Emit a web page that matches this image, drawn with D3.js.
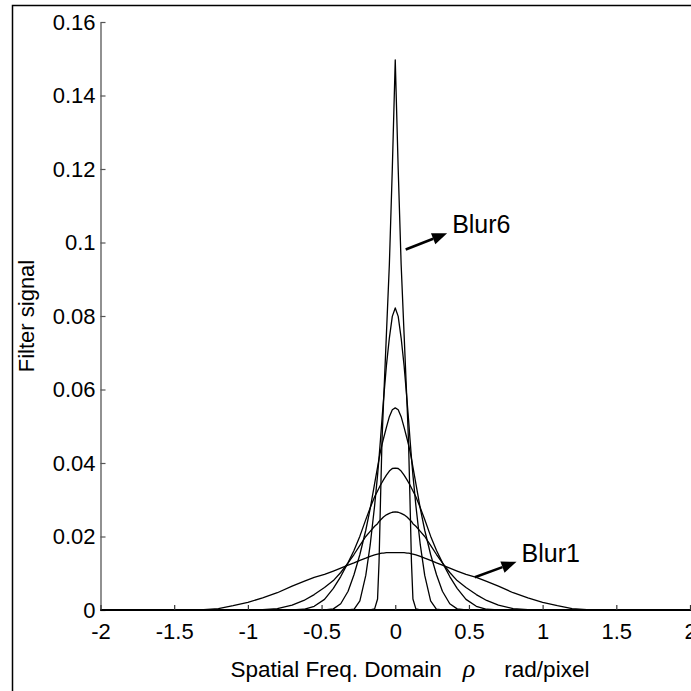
<!DOCTYPE html>
<html>
<head>
<meta charset="utf-8">
<script src="https://cdn.jsdelivr.net/npm/d3@7"></script>
<style>
  html, body { margin: 0; padding: 0; background: #fff; }
  svg { display: block; }
  text { font-family: "Liberation Sans", Arial, sans-serif; fill: #000; }
</style>
</head>
<body>
<div id="chart"></div>
<script>
// spatial frequency grid, rad/pixel
const rho = [-2.0, -1.6, -1.3, -1.2, -1.1, -1.0, -0.9, -0.8, -0.7, -0.62, -0.55, -0.48, -0.42, -0.37,
  -0.32, -0.28, -0.24, -0.2, -0.17, -0.14, -0.12, -0.11, -0.1, -0.09, -0.08, -0.06, -0.04, -0.02,
  0,
  0.02, 0.04, 0.06, 0.08, 0.09, 0.1, 0.11, 0.12, 0.14, 0.17, 0.2, 0.24, 0.28, 0.32, 0.37,
  0.42, 0.48, 0.55, 0.62, 0.7, 0.8, 0.9, 1.0, 1.1, 1.2, 1.3, 1.6, 2.0];

// filter signal
const blur1 = [0, 0, 0.0001, 0.0004, 0.0012, 0.0021, 0.0033, 0.0047, 0.0065, 0.0078, 0.0089, 0.0097, 0.0106, 0.0114,
  0.0122, 0.0128, 0.0135, 0.0141, 0.0146, 0.0150, 0.0152, 0.0153, 0.0154, 0.0155, 0.0155, 0.0156, 0.0156, 0.0156,
  0.0156,
  0.0156, 0.0156, 0.0156, 0.0155, 0.0155, 0.0154, 0.0153, 0.0152, 0.0150, 0.0146, 0.0141, 0.0135, 0.0128, 0.0122, 0.0114,
  0.0106, 0.0097, 0.0089, 0.0078, 0.0065, 0.0047, 0.0033, 0.0021, 0.0012, 0.0004, 0.0001, 0, 0];
const blur2 = [0, 0, 0, 0, 0, 0, 0.0001, 0.0004, 0.0013, 0.0026, 0.0042, 0.0061, 0.0080, 0.0102,
  0.0128, 0.0151, 0.0176, 0.0200, 0.0214, 0.0228, 0.0235, 0.0241, 0.0245, 0.0249, 0.0253, 0.0259, 0.0263, 0.0266,
  0.0267,
  0.0266, 0.0263, 0.0259, 0.0253, 0.0249, 0.0245, 0.0241, 0.0235, 0.0228, 0.0214, 0.0200, 0.0176, 0.0151, 0.0128, 0.0102,
  0.0080, 0.0061, 0.0042, 0.0026, 0.0013, 0.0004, 0.0001, 0, 0, 0, 0, 0, 0];
const blur3 = [0, 0, 0, 0, 0, 0, 0, 0, 0, 0.0002, 0.0010, 0.0029, 0.0059, 0.0091,
  0.0129, 0.0162, 0.0201, 0.0246, 0.0278, 0.0308, 0.0324, 0.0332, 0.0340, 0.0347, 0.0354, 0.0367, 0.0378, 0.0385,
  0.0386,
  0.0385, 0.0378, 0.0367, 0.0354, 0.0347, 0.0340, 0.0332, 0.0324, 0.0308, 0.0278, 0.0246, 0.0201, 0.0162, 0.0129, 0.0091,
  0.0059, 0.0029, 0.0010, 0.0002, 0, 0, 0, 0, 0, 0, 0, 0, 0];
const blur4 = [0, 0, 0, 0, 0, 0, 0, 0, 0, 0, 0, 0, 0.0003, 0.0017,
  0.0051, 0.0096, 0.0151, 0.0217, 0.0276, 0.0344, 0.0389, 0.0411, 0.0432, 0.0450, 0.0466, 0.0497, 0.0526, 0.0545,
  0.0550,
  0.0545, 0.0526, 0.0497, 0.0466, 0.0450, 0.0432, 0.0411, 0.0389, 0.0344, 0.0276, 0.0217, 0.0151, 0.0096, 0.0051, 0.0017,
  0.0003, 0, 0, 0, 0, 0, 0, 0, 0, 0, 0, 0, 0];
const blur5 = [0, 0, 0, 0, 0, 0, 0, 0, 0, 0, 0, 0, 0, 0,
  0, 0.0002, 0.0025, 0.0094, 0.0177, 0.0284, 0.0367, 0.0414, 0.0465, 0.0519, 0.0570, 0.0665, 0.0740, 0.0799,
  0.0822,
  0.0799, 0.0740, 0.0665, 0.0570, 0.0519, 0.0465, 0.0414, 0.0367, 0.0284, 0.0177, 0.0094, 0.0025, 0.0002, 0, 0,
  0, 0, 0, 0, 0, 0, 0, 0, 0, 0, 0, 0, 0];
const blur6 = [0, 0, 0, 0, 0, 0, 0, 0, 0, 0, 0, 0, 0, 0,
  0, 0, 0, 0, 0, 0.0003, 0.003, 0.013, 0.030, 0.046, 0.056, 0.075, 0.094, 0.120,
  0.1497,
  0.120, 0.094, 0.075, 0.056, 0.046, 0.030, 0.013, 0.003, 0.0003, 0, 0, 0, 0, 0, 0,
  0, 0, 0, 0, 0, 0, 0, 0, 0, 0, 0, 0, 0];
const series = [blur1, blur2, blur3, blur4, blur5, blur6];

const xTicks = [-2, -1.5, -1, -0.5, 0, 0.5, 1, 1.5, 2];
const xTickLabels = ["-2", "-1.5", "-1", "-0.5", "0", "0.5", "1", "1.5", "2"];
const yTicks = [0, 0.02, 0.04, 0.06, 0.08, 0.1, 0.12, 0.14, 0.16];
const yTickLabels = ["0", "0.02", "0.04", "0.06", "0.08", "0.1", "0.12", "0.14", "0.16"];

// annotations: name, arrow tail, arrow tip (data units)
const noteNames = ["Blur6", "Blur1"];
const noteTail = [[0.071, 0.0981], [0.540, 0.0089]];
const noteTip = [[0.352, 0.1025], [0.823, 0.0131]];

const W = 691, H = 691;
const svg = d3.select("#chart").append("svg")
  .attr("width", W)
  .attr("height", H);

svg.append("rect").attr("width", W).attr("height", H).attr("fill", "#fff");

// figure frame (runs off the right/bottom edge)
svg.append("rect")
  .attr("x", 12.5).attr("y", 5.5)
  .attr("width", W).attr("height", H)
  .attr("fill", "none")
  .attr("stroke", "#000")
  .attr("stroke-width", 1.5);

const x = d3.scaleLinear().domain([-2, 2]).range([100.5, 690]);
const y = d3.scaleLinear().domain([0, 0.16]).range([610, 22]);

const line = d3.line()
  .x(d => x(d[0]))
  .y(d => y(d[1]));

//curves
svg.append("g")
  .selectAll("path")
  .data(series)
  .join("path")
  .attr("fill", "none")
  .attr("stroke", "#000")
  .attr("stroke-width", 1.3)
  .attr("stroke-linejoin", "round")
  .attr("d", s => line(s.map((v, i) => [rho[i], v])));

//y axis
const gy = svg.append("g")
  .attr("transform", `translate(100.5,0)`)
  .call(d3.axisLeft(y)
    .tickValues(yTicks)
    .tickFormat((d, i) => yTickLabels[i])
    .tickSizeInner(-5)
    .tickSizeOuter(0)
    .tickPadding(5));
gy.attr("font-size", null).attr("font-family", null);
gy.select(".domain").attr("stroke", "#555").attr("stroke-width", 1.3);
gy.selectAll(".tick line").attr("stroke", "#555").attr("stroke-width", 1.2);
gy.selectAll(".tick text").style("font-size", "22px");

//x axis
const gx = svg.append("g")
  .attr("transform", `translate(0,${y(0)})`)
  .call(d3.axisBottom(x)
    .tickValues(xTicks)
    .tickFormat((d, i) => xTickLabels[i])
    .tickSizeInner(-5)
    .tickSizeOuter(0)
    .tickPadding(13));
gx.attr("font-size", null).attr("font-family", null);
gx.select(".domain").attr("stroke", "#000").attr("stroke-width", 2)
  .attr("d", `M${x(-2)},0H${W}`);
gx.selectAll(".tick line").attr("stroke", "#333").attr("stroke-width", 1.2);
gx.selectAll(".tick text").style("font-size", "22px");

//axis titles
const xt = svg.append("text")
  .attr("x", x(-2) + 130)
  .attr("y", 677)
  .style("font-size", "22.5px");
xt.append("tspan").text("Spatial Freq. Domain");
xt.append("tspan").attr("dx", 21)
  .style("font-family", "'Liberation Serif', serif")
  .style("font-style", "italic")
  .style("font-size", "26px")
  .text("ρ");
xt.append("tspan").attr("dx", 29).text("rad/pixel");

svg.append("text")
  .attr("transform", `translate(34,${y(0.08)}) rotate(-90)`)
  .attr("text-anchor", "middle")
  .style("font-size", "22px")
  .text("Filter signal");

//annotations
const notes = svg.append("g");
noteNames.forEach((name, i) => {
  const x0 = x(noteTail[i][0]), y0 = y(noteTail[i][1]);
  const x1 = x(noteTip[i][0]), y1 = y(noteTip[i][1]);
  const ang = Math.atan2(y1 - y0, x1 - x0);
  const len = 15, half = 6;
  const bx = x1 - len * Math.cos(ang), by = y1 - len * Math.sin(ang);
  notes.append("line")
    .attr("x1", x0).attr("y1", y0)
    .attr("x2", bx).attr("y2", by)
    .attr("stroke", "#000")
    .attr("stroke-width", 2.5);
  notes.append("path")
    .attr("d", `M${x1},${y1}L${bx - half * Math.sin(ang)},${by + half * Math.cos(ang)}L${bx + half * Math.sin(ang)},${by - half * Math.cos(ang)}Z`)
    .attr("fill", "#000");
  notes.append("text")
    .attr("x", x1 + 5)
    .attr("y", y1)
    .style("font-size", "25px")
    .text(name);
});
</script>
</body>
</html>
